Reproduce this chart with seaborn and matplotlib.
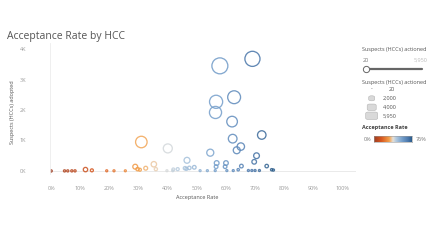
import numpy as np
import pandas as pd
import matplotlib
matplotlib.use("Agg")
import matplotlib.pyplot as plt
from matplotlib.colors import LinearSegmentedColormap
from matplotlib.patches import FancyBboxPatch
import seaborn as sns

# ---- data ----
acceptance_rate = [58.0, 69.2, 56.7, 62.9, 56.5, 62.2, 72.4, 62.4, 65.2, 63.8,
                   54.7, 70.6, 69.8, 74.1, 46.7, 40.1, 31.0, 35.3, 28.9, 32.5,
                   11.8, 56.9, 60.1, 56.7, 59.8, 49.2, 65.4, 46.0, 46.5, 47.5,
                   42.0, 43.5, 29.7, 36.0, 30.5, 14.0,
                   0.0, 4.6, 5.7, 7.1, 8.2, 19.1, 21.6, 25.5, 39.8, 41.8,
                   51.2, 53.7, 56.4, 60.4, 62.6, 64.3, 67.8, 69.0, 70.1, 71.6,
                   75.8, 76.4]
suspects_adopted = [3450, 3680, 2270, 2420, 1920, 1620, 1180, 1060, 800, 680,
                    600, 500, 300, 160, 350, 740, 950, 220, 140, 90,
                    45, 260, 260, 140, 140, 120, 160, 90, 70, 100,
                    50, 60, 60, 60, 40, 20,
                    0, 2, 2, 3, 3, 5, 5, 5, 8, 8,
                    10, 10, 12, 12, 12, 40, 15, 15, 15, 15,
                    40, 30]
suspects_actioned = [5950, 5320, 4000, 3850, 3400, 2600, 1630, 1700, 1230, 1070,
                     1100, 710, 430, 216, 750, 1850, 3060, 620, 480, 280,
                     380, 460, 430, 250, 235, 245, 245, 195, 150, 210,
                     120, 140, 200, 170, 130, 140,
                     40, 40, 35, 40, 40, 25, 25, 20, 20, 20,
                     20, 20, 20, 20, 20, 62, 22, 22, 22, 22,
                     53, 40]

df = pd.DataFrame({"rate": acceptance_rate,
                   "adopted": suspects_adopted,
                   "actioned": suspects_actioned})

cmap = LinearSegmentedColormap.from_list(
    "orbl", [(0.0, "#9e3d22"), (0.2, "#d9581f"), (0.4, "#f3a04a"),
             (0.5, "#e6e0d8"), (0.58, "#b3cadf"), (0.75, "#729dca"),
             (0.9, "#4b78ad"), (1.0, "#2b5c8a")])

sns.set_style("white")
plt.rcParams["font.family"] = ["Open Sans", "DejaVu Sans"]

fig = plt.figure(figsize=(4.32, 2.41), dpi=100)
ax = fig.add_axes([50 / 432, 1 - 174 / 241, 306 / 432, 131 / 241])

sns.scatterplot(data=df, x="rate", y="adopted", hue="rate", size="actioned",
                palette=cmap, hue_norm=(0, 76), sizes=(2, 132),
                size_norm=(20, 5950), legend=False, ax=ax, linewidth=0.95)
coll = ax.collections[0]
fc = coll.get_facecolors()
fc[:, 3] = 0.85
coll.set_edgecolors(fc)
coll.set_facecolors("none")

ax.set_xlim(-0.4, 104.8)
ax.set_ylim(-100, 4200)
ax.set_xticks(np.arange(0, 101, 10))
ax.set_xticklabels([f"{v}%" for v in range(0, 101, 10)])
ax.set_yticks([0, 1000, 2000, 3000, 4000])
ax.set_yticklabels(["0K", "1K", "2K", "3K", "4K"])
ax.tick_params(axis="both", length=0, labelsize=4, labelcolor="#9a9a9a")
ax.tick_params(axis="x", pad=9)
ax.tick_params(axis="y", pad=17)
for s in ["top", "right", "bottom"]:
    ax.spines[s].set_visible(False)
ax.spines["left"].set_color("#ececec")
ax.spines["left"].set_linewidth(0.6)
ax.axhline(0, color="#e6e6e6", lw=0.6, zorder=0)
ax.set_xlabel("")
ax.set_ylabel("")

fig.text(7 / 432, 1 - 36 / 241, "Acceptance Rate by HCC", fontsize=7.5,
         color="#555555", va="center", ha="left")
fig.text(197 / 432, 1 - 197 / 241, "Acceptance Rate", fontsize=4,
         color="#555555", ha="center", va="center")
fig.text(13 / 432, 1 - 112 / 241, "Suspects (HCCs) adopted", fontsize=4,
         color="#555555", ha="center", va="center", rotation=90)

# ---- legends ----
def ftxt(x, y, s, **kw):
    kw.setdefault("fontsize", 4)
    kw.setdefault("color", "#555555")
    kw.setdefault("va", "center")
    fig.text(x / 432, 1 - y / 241, s, **kw)

ftxt(362.5, 50, "Suspects (HCCs) actioned")
ftxt(363, 60, "20", color="#777777")
ftxt(428, 60, "5,950", color="#bbbbbb", ha="right")
fig.add_artist(plt.Line2D([366 / 432, 421.5 / 432], [1 - 69 / 241] * 2,
                          color="#666666", lw=1.6, transform=fig.transFigure))
fig.add_artist(plt.Line2D([366 / 432], [1 - 69 / 241], marker="o",
                          markersize=4.5, markerfacecolor="white",
                          markeredgecolor="#666666", markeredgewidth=0.7,
                          transform=fig.transFigure))

ftxt(362.5, 82.5, "Suspects (HCCs) actioned")
ftxt(371.7, 89.3, "-", ha="center")
ftxt(392, 89.3, "20", ha="center")
for (cy, w, h, lab) in [(98.3, 6, 5, "2,000"), (107.3, 9, 6.5, "4,000"),
                        (115.8, 12, 7.5, "5,950")]:
    x0 = (371.7 - w / 2) / 432
    y0 = 1 - (cy + h / 2) / 241
    p = FancyBboxPatch((x0, y0), w / 432, h / 241,
                       boxstyle="round,pad=0,rounding_size=0.006",
                       transform=fig.transFigure, facecolor="#d9d9d9",
                       edgecolor="#b5b5b5", lw=0.4)
    fig.add_artist(p)
    ftxt(383, cy, lab)

ftxt(362.5, 128, "Acceptance Rate", fontweight="bold", color="#444444")
ftxt(364, 139.3, "0%", color="#777777")
ftxt(415.5, 139.3, "76%", color="#777777")
cax = fig.add_axes([374 / 432, 1 - 142.3 / 241, 37.7 / 432, 6.3 / 241])
cax.imshow(np.linspace(0, 1, 256)[None, :], aspect="auto", cmap=cmap)
cax.set_xticks([])
cax.set_yticks([])
for s in cax.spines.values():
    s.set_color("#999999")
    s.set_linewidth(0.4)

fig.savefig("out.png", dpi=100, facecolor="white")
